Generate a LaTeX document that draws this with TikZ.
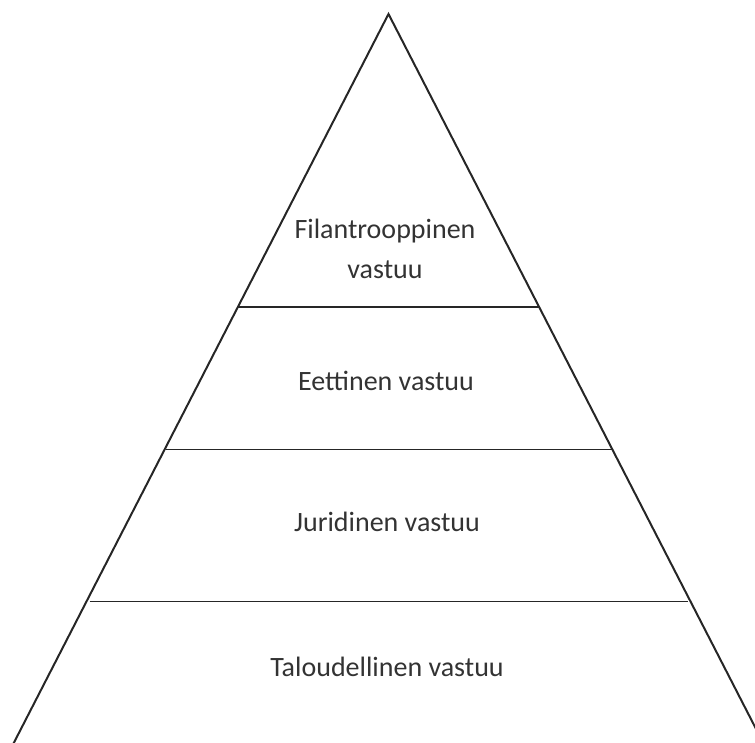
\documentclass[tikz,border=0pt]{standalone}
\usepackage{fontspec}
\setmainfont{Carlito}
\begin{document}
\begin{tikzpicture}[x=1pt,y=-1pt,
  edge/.style={line width=2pt,black!85},
  lvl/.style={line width=1.8pt,black!85},
  lbl/.style={font=\fontsize{28}{40}\selectfont,text=black!80,align=center}]
\useasboundingbox (0,0) rectangle (755,742);
\clip (0,0) rectangle (755,742);
\coordinate (apex) at (388.5,14);
\coordinate (bl) at (5,760);
\coordinate (br) at (772,760);
\draw[edge,line join=miter] (bl) -- (apex) -- (br);
\coordinate (l1) at (237.5,307); \coordinate (r1) at (539.5,307);
\coordinate (l2) at (165.5,449.5); \coordinate (r2) at (611.5,449.5);
\coordinate (l3) at (89.5,601.5); \coordinate (r3) at (688,601.5);
\draw[lvl] (l1) -- (r1);
\draw[lvl] (l2) -- (r2);
\draw[lvl] (l3) -- (r3);
\node[lbl] (t1) at (385,249) {Filantrooppinen\\vastuu};
\node[lbl] (t2) at (386,381) {Eettinen vastuu};
\node[lbl] (t3) at (387,522) {Juridinen vastuu};
\node[lbl] (t4) at (387,667) {Taloudellinen vastuu};
\end{tikzpicture}
\end{document}
